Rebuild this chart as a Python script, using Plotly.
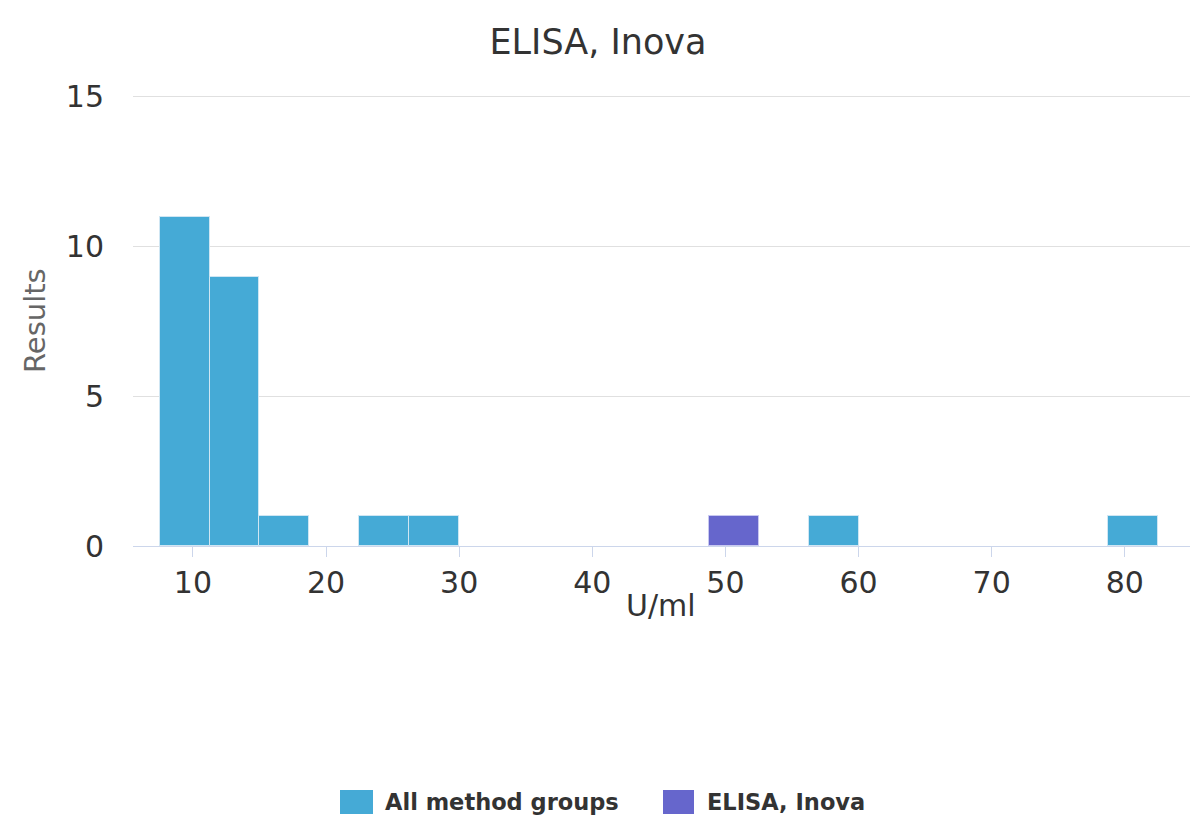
import plotly.graph_objects as go

bin_start = 7.5
bin_width = 3.75
all_groups = [11, 9, 1, 0, 1, 1, 0, 0, 0, 0, 0, 0, 0, 1, 0, 0, 0, 0, 0, 1]
elisa_inova = [0, 0, 0, 0, 0, 0, 0, 0, 0, 0, 0, 1, 0, 0, 0, 0, 0, 0, 0, 0]
series_names = ["All method groups", "ELISA, Inova"]
series_colors = ["#45aad6", "#6666cc"]
x_ticks = [10, 20, 30, 40, 50, 60, 70, 80]
y_ticks = [0, 5, 10, 15]

centers = [bin_start + bin_width * (i + 0.5) for i in range(len(all_groups))]

FONT = "DejaVu Sans"
W, H = 1199, 818
fig = go.Figure()
fig.add_trace(go.Bar(
    x=centers, y=[v if v else None for v in all_groups], width=bin_width,
    name=series_names[0], marker=dict(color=series_colors[0], line=dict(color="#cfe6f3", width=1)),
))
fig.add_trace(go.Bar(
    x=centers, y=[v if v else None for v in elisa_inova], width=bin_width,
    name=series_names[1], marker=dict(color=series_colors[1], line=dict(color="#c8c8f0", width=1)),
))

ml, mr, mt, mb = 133, 9, 88, 272
pw, ph = W - ml - mr, H - mt - mb


def px_x(px):
    return (px - ml) / pw


def px_y(py):
    return (H - mb - py) / ph


legend_items = [(340, 373, 383), (663, 694, 705)]
for (x0, x1, tx), name, col in zip(legend_items, series_names, series_colors):
    fig.add_shape(type="rect", xref="paper", yref="paper",
                  x0=px_x(x0), x1=px_x(x1), y0=px_y(814), y1=px_y(790),
                  fillcolor=col, line=dict(color=col, width=0))
    fig.add_annotation(xref="paper", yref="paper", x=px_x(tx), y=px_y(802),
                       xanchor="left", yanchor="middle", showarrow=False, text=name,
                       font=dict(family=FONT, size=22.5, color="#333333", weight="bold"))

fig.add_annotation(xref="paper", yref="paper", x=px_x(35), y=px_y(321), text="Results",
                   textangle=-90, showarrow=False, xanchor="center", yanchor="middle",
                   font=dict(family=FONT, size=29, color="#666666"))
fig.add_annotation(xref="paper", yref="paper", x=px_x(661), y=px_y(605), text="U/ml",
                   showarrow=False, xanchor="center", yanchor="middle",
                   font=dict(family=FONT, size=30, color="#333333"))

fig.update_layout(
    width=W, height=H,
    margin=dict(l=ml, r=mr, t=mt, b=mb, autoexpand=False),
    paper_bgcolor="white", plot_bgcolor="white",
    barmode="overlay",
    font=dict(family=FONT, color="#333333"),
    title=dict(text="ELISA, Inova", x=598 / W, xanchor="center", y=1 - 42 / H, yanchor="middle",
               font=dict(size=35, color="#333333", family=FONT)),
    showlegend=False,
    bargap=0,
)
fig.update_xaxes(
    range=[5.5, 84.9], tickvals=x_ticks, ticktext=[str(t) for t in x_ticks],
    showgrid=False, zeroline=False, showline=True, linecolor="#ccd6eb", linewidth=1,
    ticks="outside", ticklen=10, tickcolor="#ccd6eb", automargin=False,
    tickfont=dict(size=30, color="#333333"),
)
fig.update_yaxes(
    range=[0, 15.3], tickvals=y_ticks, ticktext=[str(t) for t in y_ticks],
    showgrid=True, gridcolor="#e0e0e0", gridwidth=1, zeroline=False, showline=False,
    ticks="outside", ticklen=22, tickcolor="rgba(0,0,0,0)", automargin=False,
    tickfont=dict(size=30, color="#333333"),
)
fig.write_html("out.html", config={"displayModeBar": False},
               post_script="document.body.style.margin='0';")
